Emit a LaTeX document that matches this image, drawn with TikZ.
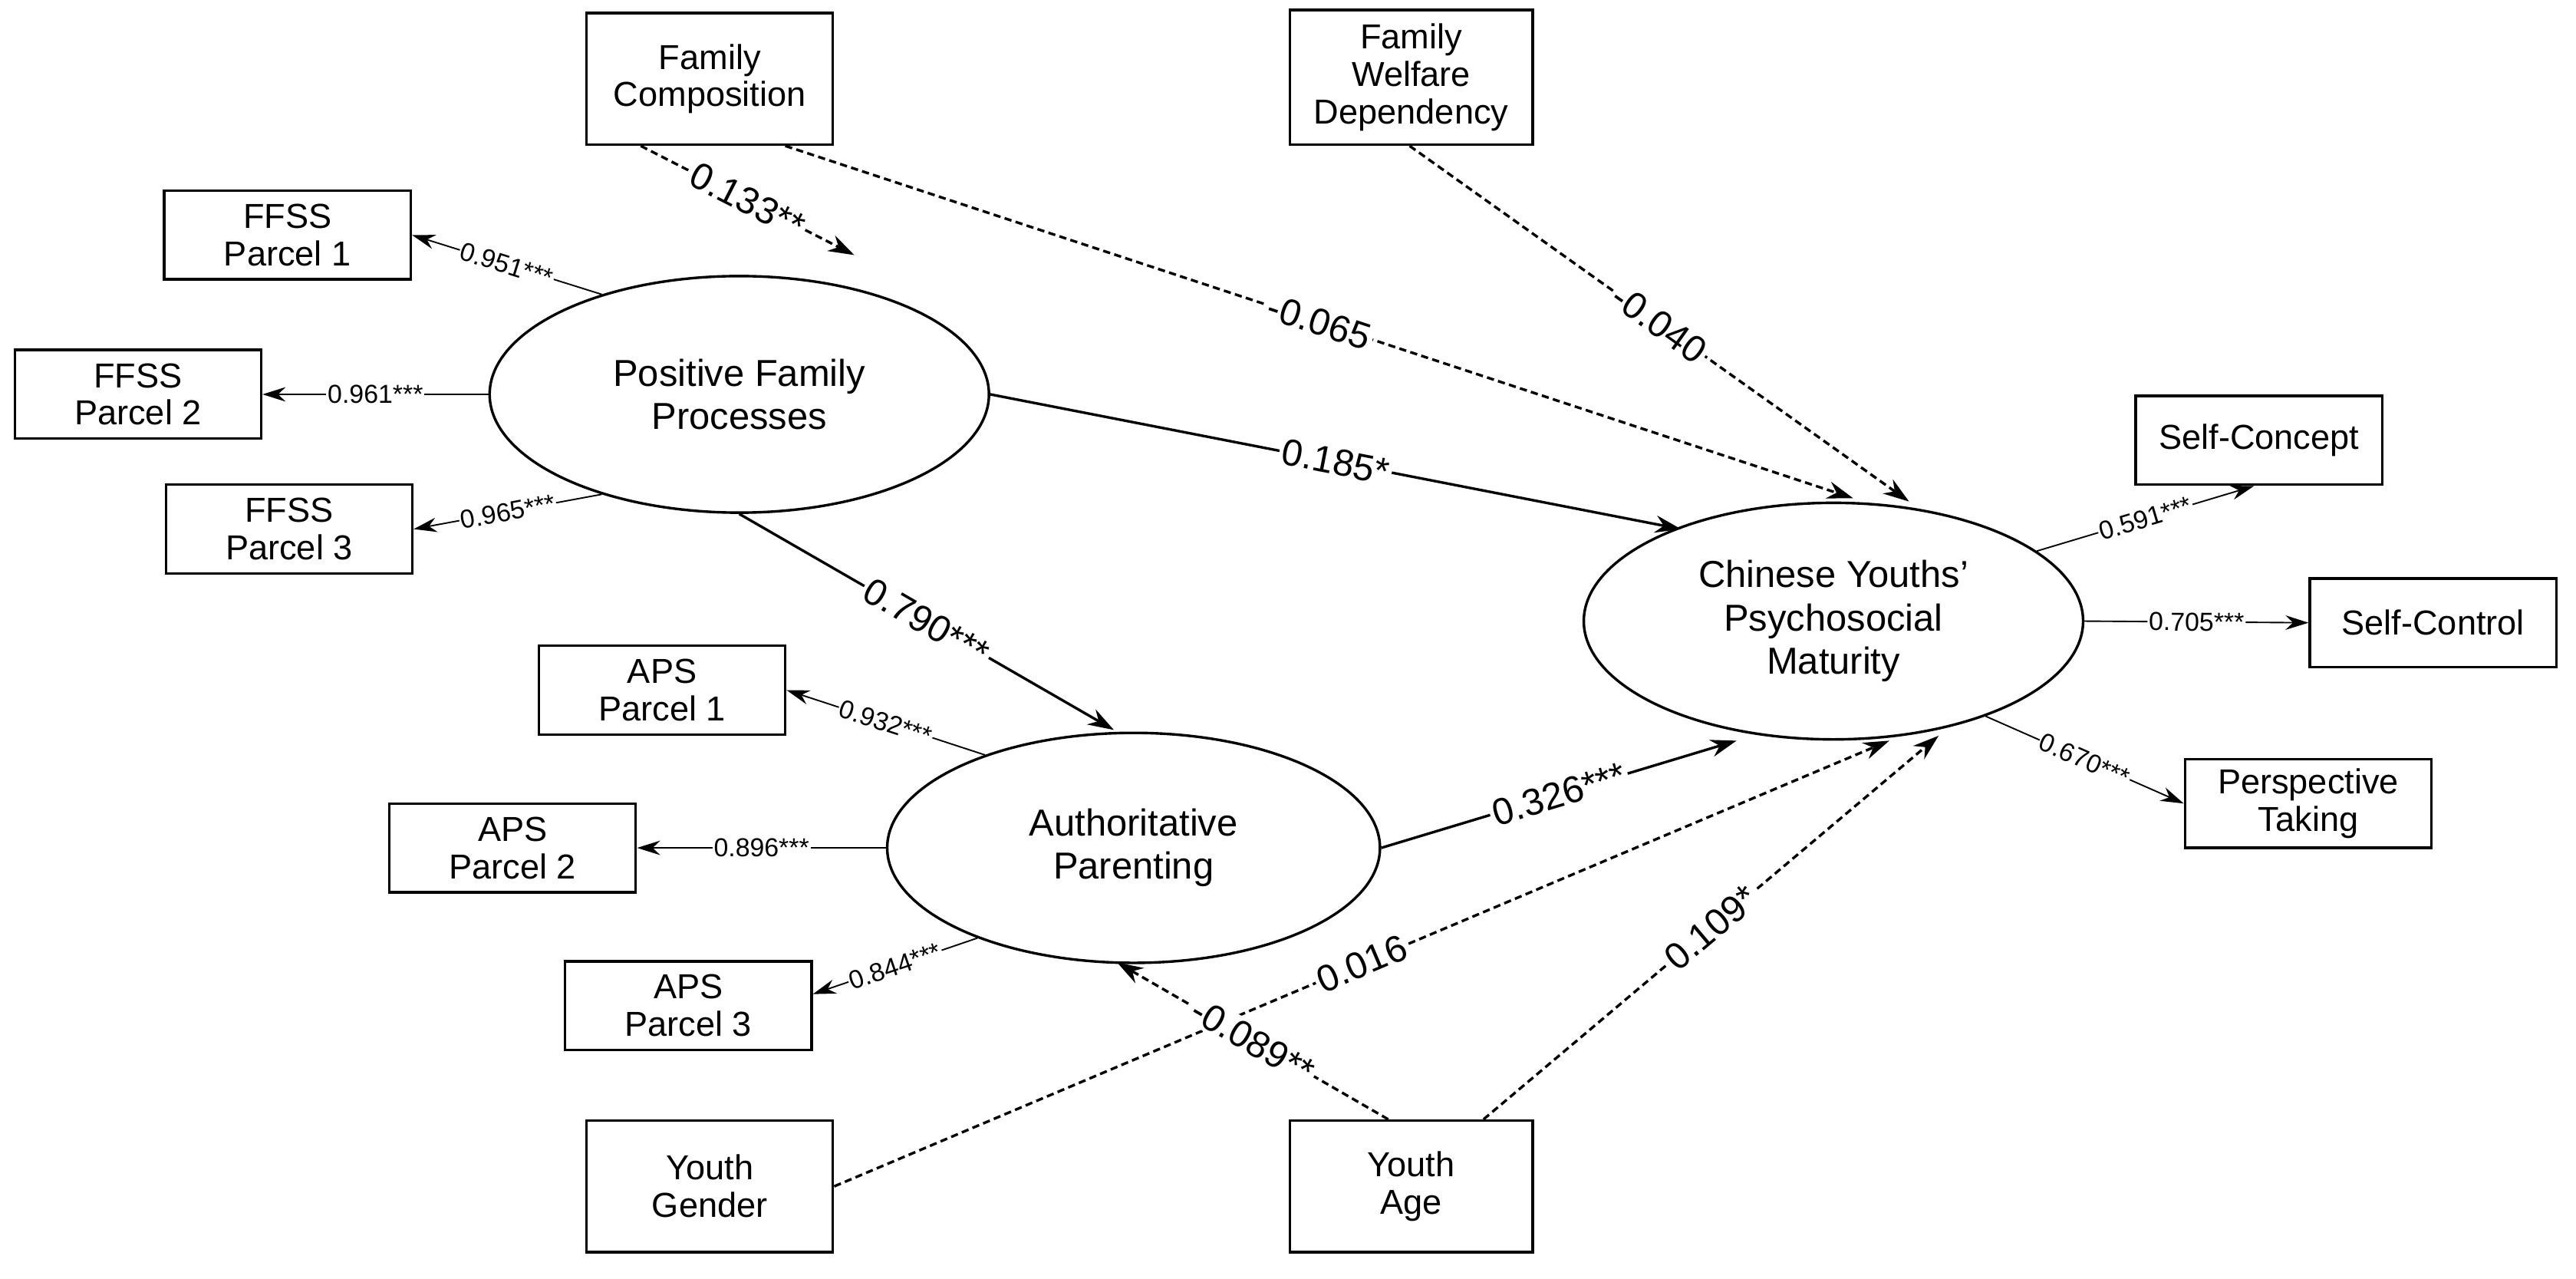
\documentclass[tikz,border=0pt]{standalone}
\usepackage{fontspec}
\setmainfont{Liberation Sans}
\usetikzlibrary{arrows.meta,shapes.geometric,calc}
\begin{document}
\begin{tikzpicture}[x=0.02cm,y=-0.02cm,
 box/.style={draw,line width=0.9pt,minimum width=3cm,minimum height=1.08cm,align=center,inner sep=1pt,font=\fontsize{12}{13}\selectfont},
 ell/.style={draw,ellipse,line width=0.9pt,minimum width=6.08cm,minimum height=2.88cm,align=center,font=\fontsize{13}{15}\selectfont},
 path/.style={line width=0.9pt,-{Stealth[length=9pt,width=6pt]}},
 dpath/.style={path,dash pattern=on 2.5pt off 1.5pt},
 load/.style={line width=0.5pt,-{Stealth[length=8pt,width=5pt]}},
 lab/.style={fill=white,inner sep=1pt,sloped,font=\fontsize{13}{14}\selectfont},
 slab/.style={fill=white,inner sep=0.5pt,sloped,font=\fontsize{9}{10}\selectfont}]
\useasboundingbox (0,0) rectangle (1568,778);
\node[box,minimum height=1.6cm] (fc) at (432,48) {Family\\Composition};
\node[box,minimum width=2.96cm,minimum height=1.64cm] (fwd) at (859,47) {Family\\Welfare\\Dependency};
\node[box] (f1) at (175,143) {FFSS\\Parcel 1};
\node[box] (f2) at (84,240) {FFSS\\Parcel 2};
\node[box] (f3) at (176,322) {FFSS\\Parcel 3};
\node[ell] (pfp) at (450,240) {Positive Family\\Processes};
\node[box] (sc) at (1375,268) {Self-Concept};
\node[box] (sco) at (1481,379) {Self-Control};
\node[box] (pt) at (1405,489) {Perspective\\Taking};
\node[ell] (cy) at (1116,378) {Chinese Youths'\\Psychosocial\\Maturity};
\node[box] (a1) at (403,420) {APS\\Parcel 1};
\node[box] (a2) at (312,516) {APS\\Parcel 2};
\node[box] (a3) at (419,612) {APS\\Parcel 3};
\node[ell,minimum width=6cm,minimum height=2.8cm] (ap) at (690,516) {Authoritative\\Parenting};
\node[box,minimum height=1.6cm] (yg) at (432,722) {Youth\\Gender};
\node[box,minimum width=2.96cm,minimum height=1.6cm] (ya) at (859,722) {Youth\\Age};
% structural paths
\draw[dpath] ($(fc.south)+(-42,0)$) -- node[lab]{0.133**} ($(pfp.north)+(70,-12)$);
\draw[dpath] ($(fc.south)+(46,0)$) -- node[lab]{-0.065} ($(cy.north)+(12,-2)$);
\draw[dpath] ($(fwd.south)+(-1,0)$) -- node[lab]{-0.040} ($(cy.north)+(46,0)$);
\draw[path] (pfp.east) -- node[lab]{0.185*} ($(cy.west)+(60,-56)$);
\draw[path] (pfp.south) -- node[lab]{0.790***} ($(ap.north)+(-12,-1)$);
\draw[path] (ap.east) -- node[lab]{0.326***} ($(cy.south)+(-59,0)$);
\draw[dpath] (yg.east) -- node[lab]{0.016} ($(cy.south)+(34,0)$);
\draw[dpath] ($(ya.north)+(44,0)$) -- node[lab]{0.109*} ($(cy.south)+(64,-3)$);
\draw[dpath] ($(ya.north)+(-14,0)$) -- node[lab]{-0.089**} ($(ap.south)+(-10,-1)$);
% loadings
\draw[load] (pfp.144) -- node[slab]{0.951***} (f1.east);
\draw[load] (pfp.west) -- node[slab]{0.961***} (f2.east);
\draw[load] (pfp.216) -- node[slab]{0.965***} (f3.east);
\draw[load] (ap.148) -- node[slab]{0.932***} (a1.east);
\draw[load] (ap.west) -- node[slab]{0.896***} (a2.east);
\draw[load] (ap.210) -- node[slab]{0.844***} ($(a3.east)+(0,-7)$);
\draw[load] (cy.19) -- node[slab]{0.591***} ($(sc.south)+(-3,0)$);
\draw[load] (cy.east) -- node[slab]{0.705***} (sco.west);
\draw[load] (cy.328) -- node[slab]{0.670***} (pt.west);
\end{tikzpicture}
\end{document}
